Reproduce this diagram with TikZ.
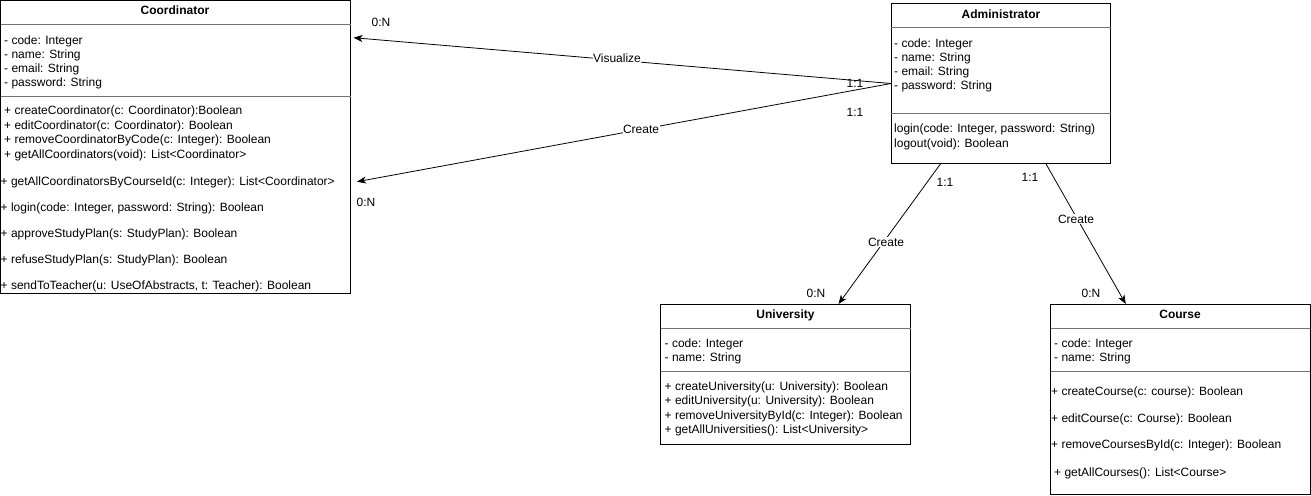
\documentclass[tikz,border=0pt]{standalone}
\usepackage{fontspec}
\setmainfont{Liberation Sans}
\usetikzlibrary{arrows.meta,calc}
\newcommand{\umlfs}{\fontsize{12}{14}\selectfont}
\tikzset{
  umlbox/.style={draw=black, line width=1pt, fill=white, anchor=north west, inner sep=0pt, outer sep=0pt},
  sepline/.style={draw=black!55, line width=0.9pt},
  txt/.style={anchor=base west, inner sep=0pt, font=\umlfs},
  hdr/.style={anchor=base, inner sep=0pt, font=\umlfs\bfseries},
  lbl/.style={anchor=center, inner sep=0pt, font=\umlfs},
  lblbg/.style={anchor=center, inner sep=0.5pt, fill=white, font=\umlfs},
  arr/.style={draw=black, line width=0.8pt, -{Stealth[length=9pt,width=7pt,inset=2.5pt]}}
}
\begin{document}
\begin{tikzpicture}[x=1pt,y=-1pt]
\useasboundingbox (0,0) rectangle (1311,495);

% ---------- Coordinator ----------
\node[umlbox, minimum width=350pt, minimum height=293pt] (coord) at (0.5,0.5) {};
\draw[sepline] (0.5,24.5) -- (350.5,24.5);
\draw[sepline] (0.5,96.5) -- (350.5,96.5);
\node[hdr] (coordh) at (175,14.5) {Coordinator};
\node[txt] (c1) at (4,44.3) {- code: Integer};
\node[txt] (c2) at (4,58.3) {- name: String};
\node[txt] (c3) at (4,72.3) {- email: String};
\node[txt] (c4) at (4,86.8) {- password: String};
\node[txt] (c5) at (4,114.8) {+ createCoordinator(c: Coordinator):Boolean};
\node[txt] (c6) at (4,129.8) {+ editCoordinator(c: Coordinator): Boolean};
\node[txt] (c7) at (4,143.8) {+ removeCoordinatorByCode(c: Integer): Boolean};
\node[txt] (c8) at (4,158.3) {+ getAllCoordinators(void): List<Coordinator>};
\node[txt] (c9) at (0.5,185.3) {+ getAllCoordinatorsByCourseId(c: Integer): List<Coordinator>};
\node[txt] (c10) at (0.5,211.3) {+ login(code: Integer, password: String): Boolean};
\node[txt] (c11) at (0.5,237.3) {+ approveStudyPlan(s: StudyPlan): Boolean};
\node[txt] (c12) at (0.5,263.3) {+ refuseStudyPlan(s: StudyPlan): Boolean};
\node[txt] (c13) at (0.5,289.8) {+ sendToTeacher(u: UseOfAbstracts, t: Teacher): Boolean};

% ---------- Administrator ----------
\node[umlbox, minimum width=219.5pt, minimum height=160pt] (admin) at (891,3.5) {};
\draw[sepline] (891,27.5) -- (1110.5,27.5);
\draw[sepline] (891,113.5) -- (1110.5,113.5);
\node[hdr] (adminh) at (1001,18.5) {Administrator};
\node[txt] (a1) at (894,47.3) {- code: Integer};
\node[txt] (a2) at (894,61.3) {- name: String};
\node[txt] (a3) at (894,75.3) {- email: String};
\node[txt] (a4) at (894,89.8) {- password: String};
\node[txt] (a5) at (894,132.8) {login(code: Integer, password: String)};
\node[txt] (a6) at (894,147.3) {logout(void): Boolean};

% ---------- University ----------
\node[umlbox, minimum width=250pt, minimum height=140pt] (univ) at (660.5,304) {};
\draw[sepline] (660.5,328) -- (910.5,328);
\draw[sepline] (660.5,371.5) -- (910.5,371.5);
\node[hdr] (univh) at (785.5,318.8) {University};
\node[txt] (u1) at (664.5,347.3) {- code: Integer};
\node[txt] (u2) at (664.5,361.8) {- name: String};
\node[txt] (u3) at (664.5,390.1) {+ createUniversity(u: University): Boolean};
\node[txt] (u4) at (664.5,404.6) {+ editUniversity(u: University): Boolean};
\node[txt] (u5) at (664.5,419.1) {+ removeUniversityById(c: Integer): Boolean};
\node[txt] (u6) at (664.5,433.6) {+ getAllUniversities(): List<University>};

% ---------- Course ----------
\node[umlbox, minimum width=259.5pt, minimum height=190pt] (course) at (1050.5,304) {};
\draw[sepline] (1050.5,328) -- (1310,328);
\draw[sepline] (1050.5,371.5) -- (1310,371.5);
\node[hdr] (courseh) at (1180,318.8) {Course};
\node[txt] (k1) at (1054,347.3) {- code: Integer};
\node[txt] (k2) at (1054,361.8) {- name: String};
\node[txt] (k3) at (1051,395.7) {+ createCourse(c: course): Boolean};
\node[txt] (k4) at (1051,422.8) {+ editCourse(c: Course): Boolean};
\node[txt] (k5) at (1051,448.9) {+ removeCoursesById(c: Integer): Boolean};
\node[txt] (k6) at (1054,476) {+ getAllCourses(): List<Course>};

% ---------- Connectors ----------
\draw[arr] (admin.west) -- ($(coord.north east)+(3,37.2)$);
\draw[arr] (admin.west) -- ($(coord.north east)+(6.5,181.2)$);
\draw[arr] ($(admin.south)+(-60,0)$) -- ($(univ.north)+(53,0)$);
\draw[arr] ($(admin.south)+(45,0)$) -- ($(course.north)+(-54.5,0)$);

% ---------- Labels ----------
\node[lblbg] (lv) at (617,58.7) {Visualize};
\node[lblbg] (lc1) at (641,129.3) {Create};
\node[lblbg] (lc2) at (886,242) {Create};
\node[lblbg] (lc3) at (1076,219) {Create};
\node[lbl] (m1) at (381,22.7) {0:N};
\node[lbl] (m2) at (366,202.3) {0:N};
\node[lbl] (m3) at (855,83.3) {1:1};
\node[lbl] (m4) at (855,112.7) {1:1};
\node[lbl] (m5) at (945,182.7) {1:1};
\node[lbl] (m6) at (1030,177.4) {1:1};
\node[lbl] (m7) at (816,293) {0:N};
\node[lbl] (m8) at (1091,293) {0:N};
\end{tikzpicture}
\end{document}
